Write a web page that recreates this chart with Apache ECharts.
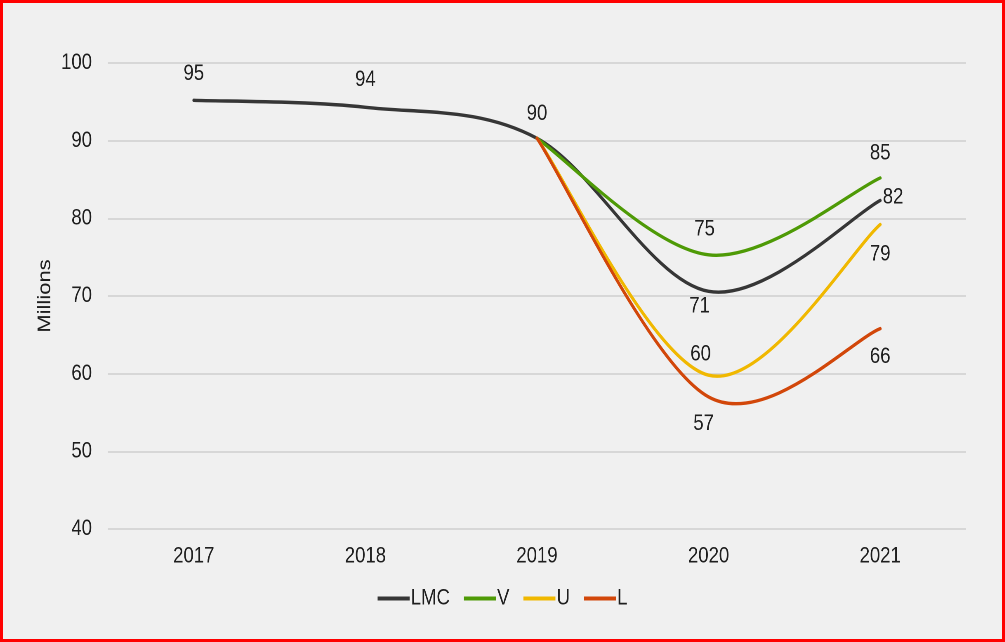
<!DOCTYPE html>
<html>
<head>
<meta charset="utf-8">
<script src="https://cdn.jsdelivr.net/npm/echarts@6/dist/echarts.min.js"></script>
<style>
html,body{margin:0;padding:0;background:#f0f0f0;overflow:hidden;}
#wrap{position:absolute;left:0;top:0;width:1005px;height:642px;overflow:hidden;}
#chart{position:absolute;left:0;top:0;height:642px;transform-origin:0 0;}
#frame{position:absolute;left:0;top:0;width:1005px;height:642px;box-sizing:border-box;border:3px solid #ff0000;pointer-events:none;}
</style>
</head>
<body>
<div id="wrap"><div id="chart"></div></div>
<div id="frame"></div>
<script>
var categories = ['2017', '2018', '2019', '2020', '2021'];
var lmc = [95.2, 94.3, 90.3, 70.6, 82.3];
var vShape = [null, null, 90.3, 75.3, 85.2];
var uShape = [null, null, 90.3, 59.8, 79.2];
var lShape = [null, null, 90.3, 57.0, 65.8];
var yTicks = [40, 50, 60, 70, 80, 90, 100];
var seriesNames = ['LMC', 'V', 'U', 'L'];

// the reference is horizontally condensed; draw wider and condense the whole chart
var S = 0.825;
var W = 1005 / S;
var el = document.getElementById('chart');
el.style.width = W + 'px';
el.style.transform = 'scaleX(' + S + ')';
function px(v) { return v / S; }

// label placements per point (style only): [position, distance, dx]
var lmcLab = [['top', 15, 0], ['top', 16, 0], ['top', 13, 0], ['bottom', 3.5, -9], ['right', 2.5, 0]];
var vLab = [null, null, null, ['top', 14, -4], ['top', 13, 0]];
var uLab = [null, null, null, ['top', 9.5, -8], ['bottom', 18, 0]];
var lLab = [null, null, null, ['bottom', 15.5, -5], ['bottom', 16.5, 0]];

var colors = {LMC: '#363636', V: '#4e9a06', U: '#f0b800', L: '#d2470a'};
var FONT = '"Liberation Sans", Arial, sans-serif';
var FS = 22.5;
var TXT = '#1f1f1f';

// Excel-like smooth curve through the data points, coordinates via the chart's own scales
function curveSeries(name, values) {
  return {
    name: name,
    type: 'custom',
    coordinateSystem: 'cartesian2d',
    itemStyle: {color: colors[name]},
    emphasis: {disabled: true},
    encode: {x: 0, y: 1},
    data: values.map(function (v, i) { return v === null ? null : [i, v]; }).filter(function (d) { return d; }),
    renderItem: function (params, api) {
      if (params.dataIndex !== 0) return null;
      var pts = [];
      values.forEach(function (v, i) { if (v !== null) pts.push(api.coord([i, v])); });
      var n = pts.length;
      var d = 'M' + pts[0][0] + ' ' + pts[0][1];
      for (var i = 0; i < n - 1; i++) {
        var p0 = pts[Math.max(i - 1, 0)], p1 = pts[i], p2 = pts[i + 1], p3 = pts[Math.min(i + 2, n - 1)];
        var c1x = p1[0] + (p2[0] - p0[0]) / 6, c1y = p1[1] + (p2[1] - p0[1]) / 6;
        var c2x = p2[0] - (p3[0] - p1[0]) / 6, c2y = p2[1] - (p3[1] - p1[1]) / 6;
        d += ' C' + c1x + ' ' + c1y + ' ' + c2x + ' ' + c2y + ' ' + p2[0] + ' ' + p2[1];
      }
      return {
        type: 'path',
        shape: {pathData: d},
        style: {stroke: colors[name], lineWidth: 3.4, fill: null, lineCap: 'round', lineJoin: 'round'}
      };
    }
  };
}

function labelSeries(name, values, labs) {
  var data = [];
  values.forEach(function (v, i) {
    if (v === null || !labs[i]) return;
    var l = labs[i];
    var right = l[0] === 'right';
    data.push({
      value: [i, v],
      label: {show: true, position: l[0], distance: right ? px(l[1]) : l[1], offset: [px(l[2]), right ? -3 : 0]}
    });
  });
  return {
    name: name + ' labels',
    type: 'scatter',
    symbolSize: 0.1,
    itemStyle: {color: '#f0f0f0', opacity: 1},
    emphasis: {disabled: true},
    silent: true,
    z: 5,
    label: {
      show: true,
      color: TXT,
      fontSize: FS,
      fontFamily: FONT,
      formatter: function (p) { return Math.round(p.value[1]); }
    },
    data: data
  };
}

var chart = echarts.init(el, null, {renderer: 'canvas', devicePixelRatio: 2, width: W, height: 642});
chart.setOption({
  backgroundColor: '#f0f0f0',
  animation: false,
  textStyle: {fontFamily: FONT},
  grid: {left: px(108), right: px(39), top: 63, bottom: 113, containLabel: false},
  xAxis: {
    type: 'category',
    data: categories,
    boundaryGap: true,
    axisLine: {show: false},
    axisTick: {show: false},
    axisLabel: {color: TXT, fontSize: FS, margin: 16}
  },
  yAxis: {
    type: 'value',
    min: yTicks[0],
    max: yTicks[yTicks.length - 1],
    interval: 10,
    name: 'Millions',
    nameLocation: 'middle',
    nameGap: 65,
    nameMoveOverlap: false,
    nameRotate: 90,
    nameTextStyle: {color: TXT, fontSize: 22},
    axisLine: {show: false},
    axisTick: {show: false},
    axisLabel: {color: TXT, fontSize: FS, margin: px(16)},
    splitLine: {lineStyle: {color: '#cfcfcf', width: 1.5}}
  },
  legend: {
    top: 582,
    left: 'center',
    icon: 'rect',
    itemWidth: px(32),
    itemHeight: 4,
    itemGap: px(14),
    textStyle: {color: TXT, fontSize: FS, padding: [0, 0, 0, px(-3)]},
    data: seriesNames.map(function (n) { return {name: n, itemStyle: {color: colors[n]}}; })
  },
  series: [
    curveSeries('LMC', lmc),
    curveSeries('V', vShape),
    curveSeries('U', uShape),
    curveSeries('L', lShape),
    labelSeries('LMC', lmc, lmcLab),
    labelSeries('V', vShape, vLab),
    labelSeries('U', uShape, uLab),
    labelSeries('L', lShape, lLab)
  ]
});
</script>
</body>
</html>
